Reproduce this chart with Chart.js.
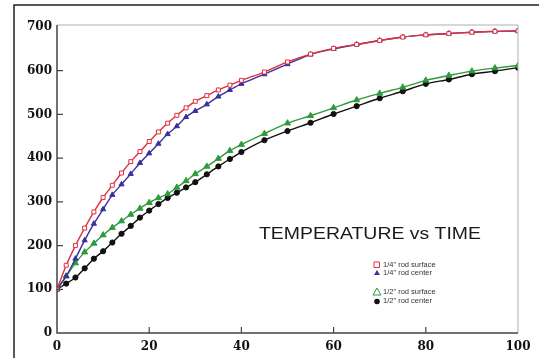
<html>

<head>
    <title>Temperature vs Time</title>
    <script src="https://cdn.jsdelivr.net/npm/chart.js@4.4.0/dist/chart.umd.min.js"></script>
    <style>
        body { margin: 0; background: #fff; }
    </style>
</head>

<body>
    <canvas id="temp" width="539" height="358"></canvas>
    <script>

        // time (s) at each marker
        let times = [0, 2, 4, 6, 8, 10, 12, 14, 16, 18, 20, 22, 24, 26, 28, 30, 32.5, 35, 37.5, 40,
                     45, 50, 55, 60, 65, 70, 75, 80, 85, 90, 95, 100];
        let quarterSurface = [100, 155, 200, 240, 277, 310, 338, 366, 392, 415, 438, 460, 480, 498, 515, 530, 543, 556, 567, 578,
                              597, 620, 638, 651, 660, 669, 677, 682, 685, 688, 690, 691];
        let quarterCenter = [100, 130, 170, 212, 250, 283, 316, 340, 364, 389, 411, 433, 455, 473, 494, 508, 523, 541, 556, 570,
                             592, 615, 637, 650, 660, 669, 677, 682, 685, 688, 690, 691];
        let halfSurface = [100, 130, 160, 185, 205, 224, 241, 256, 271, 285, 298, 309, 318, 333, 348, 364, 381, 399, 417, 431,
                           456, 480, 497, 515, 533, 548, 562, 578, 589, 599, 606, 612];
        let halfCenter = [100, 113, 127, 148, 170, 187, 207, 227, 245, 264, 280, 295, 309, 321, 333, 345, 363, 381, 398, 414,
                          441, 462, 481, 501, 519, 537, 553, 570, 580, 592, 599, 607];
        let seriesNames = ['1/4" rod surface', '1/4" rod center', '1/2" rod surface', '1/2" rod center'];
        let xTicks = [0, 20, 40, 60, 80, 100];
        let yTicks = [0, 100, 200, 300, 400, 500, 600, 700];

        function pts(values) {
            return values.map(function (v, i) { return { x: times[i], y: v }; });
        }

        // frame, axis box, inward ticks, title and legend
        let decor = {
            id: 'decor',
            beforeDraw: function (chart) {
                let c = chart.ctx;
                c.save();
                c.strokeStyle = '#222';
                c.lineWidth = 1.5;
                c.beginPath();
                c.moveTo(14, 358);
                c.lineTo(14, 5);
                c.lineTo(539, 5);
                c.stroke();
                c.restore();
            },
            afterDatasetsDraw: function (chart) {
                let c = chart.ctx;
                let a = chart.chartArea;
                let xs = chart.scales.x, ys = chart.scales.y;
                c.save();
                // light top / right border
                c.strokeStyle = '#b0b0b0';
                c.lineWidth = 1;
                c.beginPath();
                c.moveTo(a.left, a.top - 2);
                c.lineTo(a.right, a.top - 2);
                c.lineTo(a.right, a.bottom);
                c.stroke();
                // dark axes
                c.strokeStyle = '#444';
                c.lineWidth = 1.5;
                c.beginPath();
                c.moveTo(a.left, a.top - 2);
                c.lineTo(a.left, a.bottom);
                c.lineTo(a.right, a.bottom);
                c.stroke();
                // inward ticks
                c.lineWidth = 1.2;
                c.beginPath();
                yTicks.slice(1, -1).forEach(function (v) {
                    let y = ys.getPixelForValue(v);
                    c.moveTo(a.left, y);
                    c.lineTo(a.left + 6, y);
                });
                xTicks.slice(1, -1).forEach(function (v) {
                    let x = xs.getPixelForValue(v);
                    c.moveTo(x, a.bottom);
                    c.lineTo(x, a.bottom - 6);
                });
                c.stroke();

                // title
                c.fillStyle = '#1a1a1a';
                c.font = '17px "Liberation Sans", Arial, sans-serif';
                c.textBaseline = 'alphabetic';
                let title = 'TEMPERATURE vs TIME';
                let w = c.measureText(title).width;
                c.save();
                c.translate(259, 239);
                c.scale(222 / w, 1);
                c.fillText(title, 0, 0);
                c.restore();

                // legend
                let rows = [265, 273, 292, 301];
                c.font = '7.5px "Liberation Sans", Arial, sans-serif';
                c.textBaseline = 'middle';
                rows.forEach(function (y, i) {
                    let ds = chart.data.datasets[i];
                    c.fillStyle = '#333';
                    c.fillText(seriesNames[i], 383, y);
                    c.strokeStyle = ds.borderColor;
                    c.fillStyle = ds.borderColor;
                    c.lineWidth = 1;
                    c.beginPath();
                    if (i === 0) {
                        c.rect(374, y - 3, 5.5, 5.5);
                        c.stroke();
                    } else if (i === 1) {
                        c.moveTo(377, y - 3); c.lineTo(380, y + 2); c.lineTo(374, y + 2); c.closePath();
                        c.fill();
                    } else if (i === 2) {
                        c.moveTo(377, y - 4); c.lineTo(381, y + 3); c.lineTo(373, y + 3); c.closePath();
                        c.stroke();
                    } else {
                        c.arc(377, y + 0.5, 2.8, 0, Math.PI * 2);
                        c.fill();
                    }
                });
                c.restore();
            }
        };

        let ctx = document.getElementById('temp').getContext('2d');
        let chart = new Chart(ctx, {
            type: 'line',
            data: {
                datasets: [{
                    label: seriesNames[0],
                    data: pts(quarterSurface),
                    borderColor: '#e0303c',
                    backgroundColor: '#fff',
                    borderWidth: 1.4,
                    pointStyle: 'rect',
                    pointRadius: 2.8,
                    pointBorderWidth: 1,
                    tension: 0.3
                }, {
                    label: seriesNames[1],
                    data: pts(quarterCenter),
                    borderColor: '#3b2f9e',
                    backgroundColor: '#3b2f9e',
                    borderWidth: 1.4,
                    pointStyle: 'triangle',
                    pointRadius: 3,
                    pointBorderWidth: 1,
                    tension: 0.3
                }, {
                    label: seriesNames[2],
                    data: pts(halfSurface),
                    borderColor: '#2f9a3c',
                    backgroundColor: '#2f9a3c',
                    borderWidth: 1.4,
                    pointStyle: 'triangle',
                    pointRadius: 3.5,
                    pointBorderWidth: 1,
                    tension: 0.3
                }, {
                    label: seriesNames[3],
                    data: pts(halfCenter),
                    borderColor: '#111',
                    backgroundColor: '#111',
                    borderWidth: 1.4,
                    pointStyle: 'circle',
                    pointRadius: 2.6,
                    pointBorderWidth: 1,
                    tension: 0.3
                }]
            },
            options: {
                responsive: false,
                animation: false,
                layout: {
                    padding: { left: 0, right: 21, top: 27, bottom: 0 }
                },
                plugins: {
                    legend: { display: false },
                    title: { display: false },
                    tooltip: { enabled: false }
                },
                scales: {
                    x: {
                        type: 'linear',
                        min: 0,
                        max: 100,
                        afterFit: function (s) { s.height = 25; },
                        afterBuildTicks: function (s) { s.ticks = xTicks.map(function (v) { return { value: v }; }); },
                        grid: { display: false, drawTicks: false },
                        border: { display: false },
                        ticks: {
                            padding: 7,
                            color: '#111',
                            font: { family: '"DejaVu Serif", serif', weight: 'bold', size: 12 }
                        }
                    },
                    y: {
                        min: 0,
                        max: 700,
                        afterFit: function (s) { s.width = 57; },
                        afterBuildTicks: function (s) { s.ticks = yTicks.map(function (v) { return { value: v }; }); },
                        grid: { display: false, drawTicks: false },
                        border: { display: false },
                        ticks: {
                            padding: 5,
                            color: '#111',
                            font: { family: '"DejaVu Serif", serif', weight: 'bold', size: 12 }
                        }
                    }
                }
            },
            plugins: [decor]
        });
    </script>
</body>

</html>
